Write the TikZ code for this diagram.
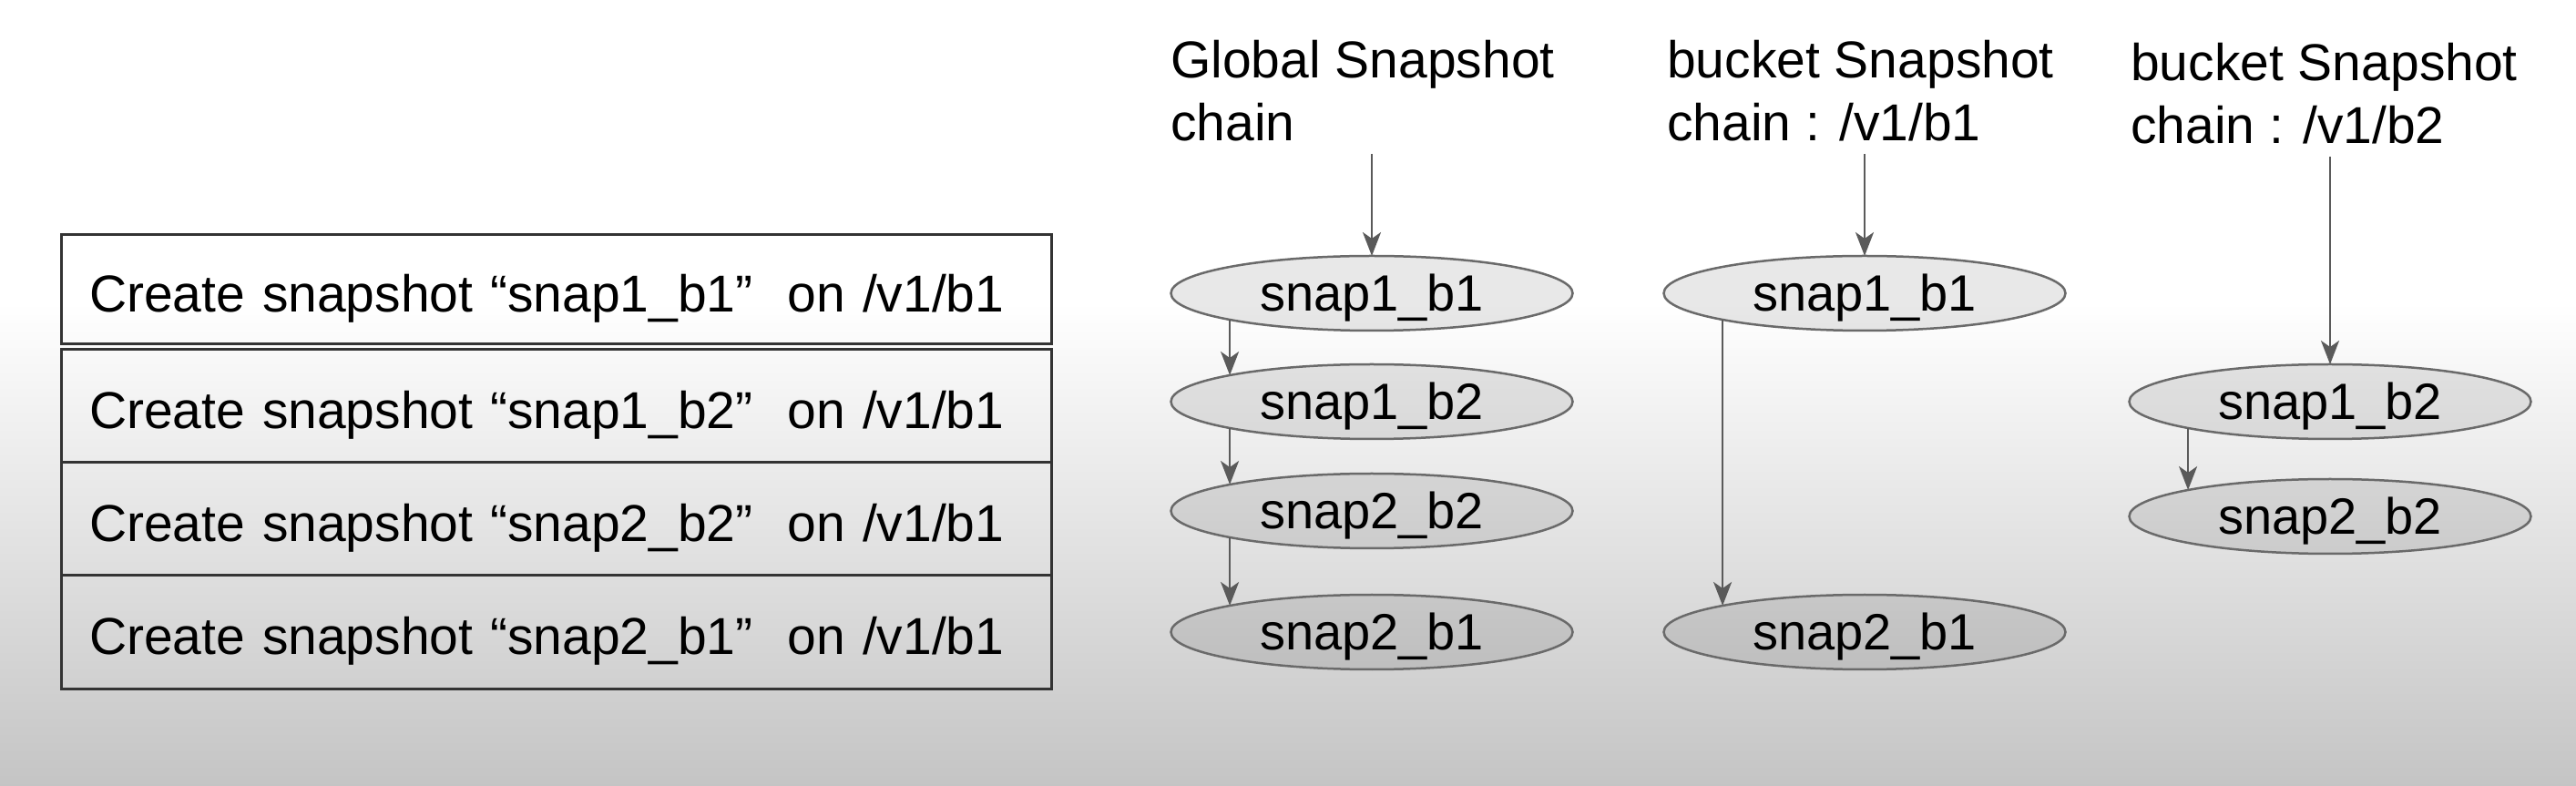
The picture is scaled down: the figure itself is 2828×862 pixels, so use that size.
\documentclass[tikz,border=0pt]{standalone}
\usepackage{fontspec}
\setmainfont{Liberation Sans}
\usetikzlibrary{positioning,shapes.geometric,arrows.meta}
\definecolor{tabline}{HTML}{333333}
\definecolor{elline}{HTML}{6A6A6A}
\definecolor{arline}{HTML}{5A5A5A}
\tikzset{
    RO/.style ={rectangle,minimum width = 1087pt, minimum height =124pt, draw=tabline, line width=3pt,
        outer sep=0pt, inner xsep=31pt, text width=1025pt, align=left, text height=62pt, text depth=13pt,
        font=\fontsize{57}{69}\selectfont},
    EL/.style ={ellipse,minimum width = 441pt, minimum height =82pt, inner sep=0pt, outer sep=0pt,
        draw=elline, line width=2.5pt, fill=black, fill opacity=0.09, text opacity=1,
        text height=44pt, text depth=4pt, font=\fontsize{56}{66}\selectfont},
    HD/.style ={anchor=base west, inner sep=0pt, align=left, font=\fontsize{57}{69}\selectfont},
    AR/.style ={draw=arline, line width=2.5pt, -{Stealth[length=26pt,width=20pt,inset=7pt]}}}
\begin{document}
\begin{tikzpicture}[x=1pt,y=1pt]
        % background
        \fill[white] (0,0) rectangle (2828,862);
        \shade[top color=white, bottom color=black!23] (0,0) rectangle (2828,530);
        \useasboundingbox (0,0) rectangle (2828,862);
        % commands
        \node[RO, minimum height=120pt] (c1) at (610.5,544) {Create snapshot “snap1\_b1”\ \ on /v1/b1};
        \node[RO, below=6pt of c1] (c2) {Create snapshot “snap1\_b2”\ \ on /v1/b1};
        \node[RO, below=0pt of c2] (c3) {Create snapshot “snap2\_b2”\ \ on /v1/b1};
        \node[RO, below=0pt of c3] (c4) {Create snapshot “snap2\_b1”\ \ on /v1/b1};
        % global chain
        \node[HD] (gh) at (1285,707) {Global Snapshot\\chain};
        \node[EL] (g1) at (1506,540) {snap1\_b1};
        \node[EL, below=37pt of g1] (g2) {snap1\_b2};
        \node[EL, below=38pt of g2] (g3) {snap2\_b2};
        \node[EL, below=51pt of g3] (g4) {snap2\_b1};
        % bucket chain /v1/b1
        \node[HD] (mh) at (1830,707) {bucket Snapshot\\chain : /v1/b1};
        \node[EL, right=100pt of g1] (m1) {snap1\_b1};
        \node[EL] (m2) at (m1 |- g4) {snap2\_b1};
        % bucket chain /v1/b2
        \node[HD] (rh) at (2339,704) {bucket Snapshot\\chain : /v1/b2};
        \node[EL] (r1) at ([xshift=511pt]g2 -| m1) {snap1\_b2};
        \node[EL, below=44pt of r1] (r2) {snap2\_b2};
        % arrows
        \coordinate (gin) at ([yshift=112pt]g1.north);
        \coordinate (min) at ([yshift=112pt]m1.north);
        \coordinate (rin) at ([yshift=228pt]r1.north);
        \draw[AR] (gin) -- (g1.north);
        \draw[AR] (g1.south west) -- (g2.north west);
        \draw[AR] (g2.south west) -- (g3.north west);
        \draw[AR] (g3.south west) -- (g4.north west);
        \draw[AR] (min) -- (m1.north);
        \draw[AR] (m1.south west) -- (m2.north west);
        \draw[AR] (rin) -- (r1.north);
        \draw[AR] (r1.south west) -- (r2.north west);
\end{tikzpicture}
\end{document}
